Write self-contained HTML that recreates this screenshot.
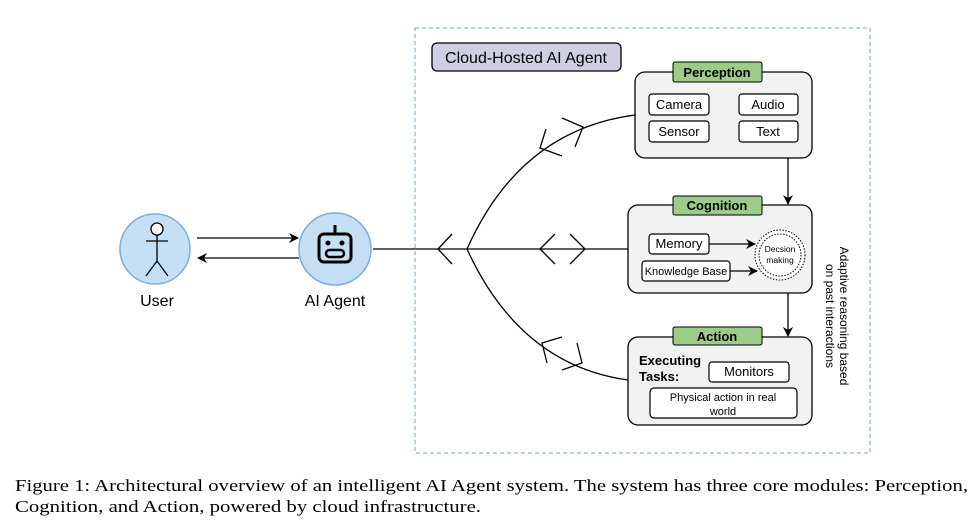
<!DOCTYPE html>
<html><head><style>body{margin:0;background:#fff}svg{display:block}</style></head><body>
<svg width="975" height="523" viewBox="0 0 975 523" xmlns="http://www.w3.org/2000/svg" font-family="Liberation Sans, sans-serif">
<defs>
<marker id="ah" markerWidth="10" markerHeight="10" refX="9" refY="5" orient="auto" markerUnits="userSpaceOnUse"><path d="M0,0 L10,5 L0,10 L3,5 Z" fill="#000"/></marker>
</defs>
<rect x="415" y="28" width="455" height="425" fill="none" stroke="#6fa8c8" stroke-dasharray="4,3"/>
<rect x="432" y="43" width="189" height="28" rx="5" fill="#d0cee2" stroke="#000" stroke-width="1.3"/>
<text x="526" y="63" font-size="16" text-anchor="middle">Cloud-Hosted AI Agent</text>
<circle cx="155" cy="249" r="35" fill="#c5dff5" stroke="#7aaedc" stroke-width="1.5"/>
<g stroke="#000" stroke-width="1.3" fill="none"><circle cx="157" cy="229" r="6" fill="#fff"/><line x1="157" y1="235" x2="157" y2="261"/><line x1="146" y1="241" x2="168" y2="241"/><line x1="157" y1="261" x2="146" y2="276"/><line x1="157" y1="261" x2="168" y2="276"/></g>
<text x="157" y="306" font-size="16" text-anchor="middle">User</text>
<circle cx="335" cy="249" r="36" fill="#c5dff5" stroke="#7aaedc" stroke-width="1.5"/>
<g stroke="#000" fill="none" stroke-width="3"><rect x="319" y="234" width="32" height="28" rx="5"/><line x1="335" y1="225" x2="335" y2="234"/><rect x="326" y="250" width="18" height="7" rx="3.5" stroke-width="2.5"/></g>
<circle cx="328" cy="243" r="2.5"/><circle cx="342" cy="243" r="2.5"/>
<text x="335" y="306" font-size="16" text-anchor="middle">AI Agent</text>
<line x1="197" y1="238" x2="298" y2="238" stroke="#000" stroke-width="1.3" marker-end="url(#ah)"/>
<line x1="299" y1="258" x2="198" y2="258" stroke="#000" stroke-width="1.3" marker-end="url(#ah)"/>
<g stroke="#000" stroke-width="1.3" fill="none">
<line x1="373" y1="249" x2="628" y2="249"/>
<path d="M467,249 Q520,130 635,115"/>
<path d="M467,249 Q520,365 628,380"/>
<path d="M452,234 L438,249 L452,264"/>
<path d="M555,234 L540,249 L555,264"/>
<path d="M570,234 L585,249 L570,264"/>
<path d="M562,118 L583,127 L575,147"/>
<path d="M546,129 L540,148 L562,156"/>
<path d="M562,337 L542,343 L547,363"/>
<path d="M577,343 L582,363 L562,370"/>
</g>
<line x1="788" y1="158" x2="788" y2="204" stroke="#000" stroke-width="1.3" marker-end="url(#ah)"/>
<line x1="788" y1="293" x2="788" y2="336" stroke="#000" stroke-width="1.3" marker-end="url(#ah)"/>
<rect x="635" y="72" width="177" height="86" rx="10" fill="#f2f2f2" stroke="#000" stroke-width="1.3"/>
<rect x="673" y="62" width="89" height="20" rx="2" fill="#9bcc8a" stroke="#000" stroke-width="1"/>
<text x="717" y="77" font-size="13" font-weight="bold" text-anchor="middle">Perception</text>
<g fill="#fff" stroke="#000" stroke-width="1.2">
<rect x="649" y="94" width="60" height="21" rx="3"/><rect x="739" y="94" width="59" height="21" rx="3"/>
<rect x="649" y="121" width="60" height="21" rx="3"/><rect x="739" y="121" width="59" height="21" rx="3"/>
</g>
<g font-size="13" text-anchor="middle"><text x="679" y="109">Camera</text><text x="768" y="109">Audio</text><text x="679" y="136">Sensor</text><text x="768" y="136">Text</text></g>
<rect x="628" y="205" width="184" height="88" rx="10" fill="#f2f2f2" stroke="#000" stroke-width="1.3"/>
<rect x="673" y="196" width="89" height="19" rx="2" fill="#9bcc8a" stroke="#000" stroke-width="1"/>
<text x="717" y="210" font-size="13" font-weight="bold" text-anchor="middle">Cognition</text>
<rect x="649" y="234" width="60" height="20" rx="3" fill="#fff" stroke="#000" stroke-width="1.2"/>
<text x="679" y="248" font-size="13" text-anchor="middle">Memory</text>
<rect x="642" y="261" width="88" height="20" rx="3" fill="#fff" stroke="#000" stroke-width="1.2"/>
<text x="686" y="275" font-size="11" text-anchor="middle">Knowledge Base</text>
<line x1="709" y1="244" x2="755" y2="244" stroke="#000" stroke-width="1.3" marker-end="url(#ah)"/>
<line x1="730" y1="271" x2="757" y2="271" stroke="#000" stroke-width="1.3" marker-end="url(#ah)"/>
<circle cx="780" cy="255" r="25" fill="#fff" stroke="#000" stroke-dasharray="1.5,1.5"/>
<circle cx="780" cy="255" r="21" fill="none" stroke="#000" stroke-dasharray="1.5,1.5"/>
<text x="780" y="252" font-size="8.5" text-anchor="middle">Decsion</text>
<text x="780" y="263" font-size="8.5" text-anchor="middle">making</text>
<rect x="628" y="337" width="184" height="88" rx="10" fill="#f2f2f2" stroke="#000" stroke-width="1.3"/>
<rect x="673" y="327" width="89" height="18" rx="2" fill="#9bcc8a" stroke="#000" stroke-width="1"/>
<text x="717" y="341" font-size="13" font-weight="bold" text-anchor="middle">Action</text>
<text x="639" y="365" font-size="13" font-weight="bold">Executing</text>
<text x="639" y="381" font-size="13" font-weight="bold">Tasks:</text>
<rect x="709" y="362" width="80" height="20" rx="3" fill="#fff" stroke="#000" stroke-width="1.2"/>
<text x="749" y="376" font-size="13" text-anchor="middle">Monitors</text>
<rect x="650" y="388" width="147" height="30" rx="4" fill="#fff" stroke="#000" stroke-width="1.2"/>
<text x="723" y="401" font-size="11" text-anchor="middle">Physical action in real</text>
<text x="723" y="415" font-size="11" text-anchor="middle">world</text>
<g transform="translate(840,316) rotate(90)" font-size="12" text-anchor="middle">
<text x="0" y="0">Adaptive reasoning based</text><text x="0" y="14">on past interactions</text></g>
<g font-family="Liberation Serif, serif" font-size="17">
<text x="15" y="491" textLength="953" lengthAdjust="spacingAndGlyphs">Figure 1: Architectural overview of an intelligent AI Agent system. The system has three core modules: Perception,</text>
<text x="15" y="512" textLength="466" lengthAdjust="spacingAndGlyphs">Cognition, and Action, powered by cloud infrastructure.</text>
</g>
</svg>
</body></html>
